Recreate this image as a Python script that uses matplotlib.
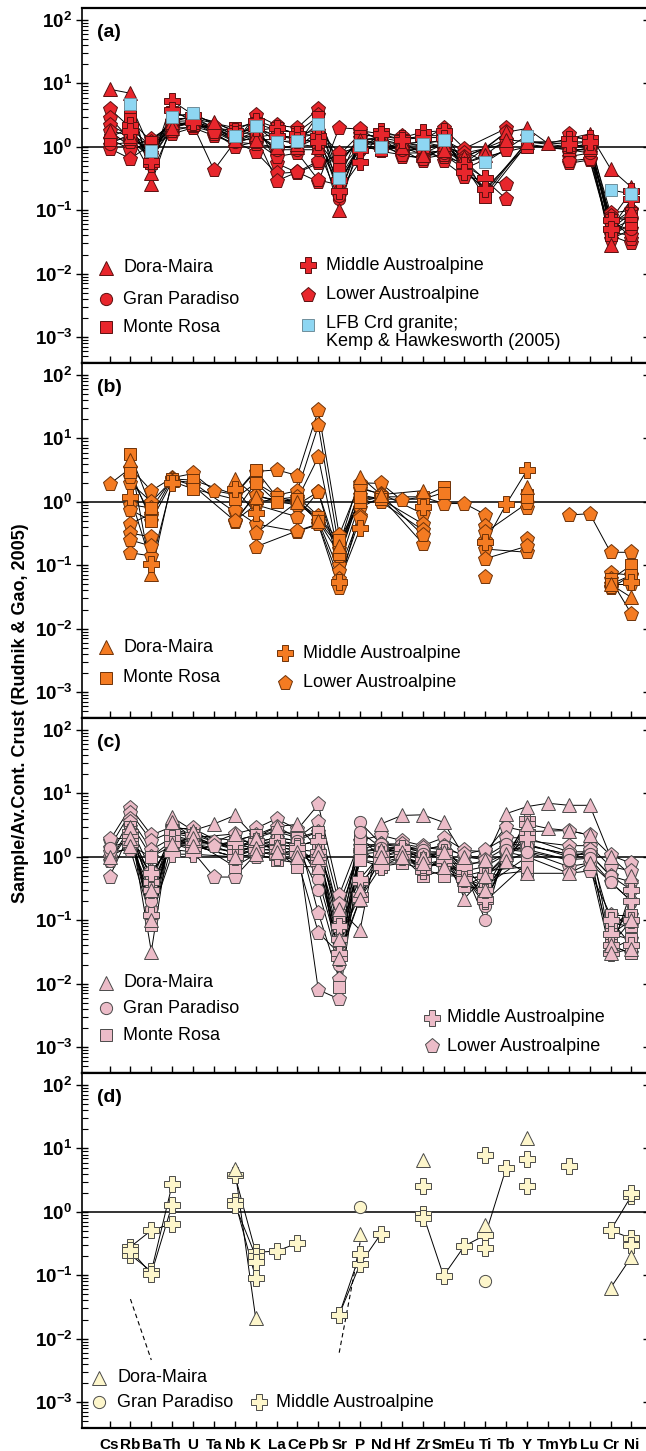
import numpy as np
import matplotlib
matplotlib.use("Agg")
import matplotlib.pyplot as plt
from matplotlib.ticker import FixedLocator, NullFormatter, LogLocator

plt.rcParams['font.family'] = ['Liberation Sans', 'DejaVu Sans']
plt.rcParams['mathtext.fontset'] = 'custom'
plt.rcParams['mathtext.rm'] = 'Liberation Sans:bold'
plt.rcParams['mathtext.it'] = 'Liberation Sans:bold'
plt.rcParams['mathtext.bf'] = 'Liberation Sans:bold'
plt.rcParams['mathtext.default'] = 'rm'

# ---------------------------------------------------------------- data
ELEMENTS = ["Cs", "Rb", "Ba", "Th", "U", "Ta", "Nb", "K", "La", "Ce", "Pb", "Sr", "P",
            "Nd", "Hf", "Zr", "Sm", "Eu", "Ti", "Tb", "Y", "Tm", "Yb", "Lu", "Cr", "Ni"]
Y_TICKS = [1e-3, 1e-2, 1e-1, 1e0, 1e1, 1e2]
Y_TICK_LABELS = ["$10^{-3}$", "$10^{-2}$", "$10^{-1}$", "$10^{0}$", "$10^{1}$", "$10^{2}$"]
Y_LABEL = "Sample/Av.Cont. Crust (Rudnik & Gao, 2005)"

# ---- panel (a)
A_DORA_MAIRA = [
    dict(Cs=8.1, Rb=7.0, Ba=0.26, Th=2.5, U=3.0, Ta=2.5, Nb=1.7, K=1.6, La=1.0, Ce=1.0, Pb=1.4, Sr=0.10, P=1.3,
         Nd=1.4, Hf=1.2, Zr=0.78, Sm=1.1, Eu=0.7, Ti=0.94, Tb=1.7, Y=1.95, Tm=1.13, Yb=1.35, Lu=1.6, Cr=0.45, Ni=0.23),
    dict(Cs=1.8, Rb=1.5, Ba=0.38, Th=2.0, U=2.5, Nb=1.3, K=1.3, La=1.3, Ce=1.1, Pb=1.0, Sr=0.25, P=1.1, Nd=1.1,
         Hf=1.0, Zr=0.75, Sm=0.9, Eu=0.55, Ti=0.75, Tb=1.3, Y=1.2, Yb=1.1, Lu=1.0, Cr=0.028, Ni=0.1),
]
A_GRAN_PARADISO = [
    dict(Cs=1.4, Rb=2.0, Ba=0.65, Th=2.2, U=2.5, Nb=1.2, K=1.6, La=0.9, Ce=0.9, Pb=0.9, Sr=0.15, P=0.9, Nd=1.0,
         Hf=0.9, Zr=0.9, Sm=0.8, Eu=0.5, Ti=0.22, Y=1.05, Yb=0.9, Lu=0.8, Cr=0.075, Ni=0.07),
    dict(Cs=1.1, Rb=1.6, Ba=1.0, Th=2.8, U=2.8, Nb=1.4, K=1.9, La=1.5, Ce=1.4, Pb=1.6, Sr=0.17, P=1.2, Nd=1.2,
         Hf=1.1, Zr=1.2, Sm=1.0, Eu=0.65, Ti=0.18, Y=1.2, Yb=1.0, Lu=1.1, Cr=0.06, Ni=0.05),
]
A_MONTE_ROSA = [
    dict(Rb=3.3, Ba=0.55, Th=3.5, U=2.8, Nb=2.0, K=2.4, La=1.8, Ce=1.7, Pb=3.0, Sr=0.5, P=1.5, Nd=1.5, Hf=1.3,
         Zr=1.5, Sm=1.5, Eu=0.45, Ti=0.2, Y=1.2, Yb=1.2, Lu=1.2, Cr=0.05, Ni=0.09),
    dict(Rb=2.7, Ba=1.2, Th=2.5, U=2.2, Nb=1.8, K=1.8, La=2.0, Ce=1.6, Pb=1.8, Sr=0.6, P=1.3, Nd=1.3, Hf=1.1,
         Zr=1.2, Sm=1.2, Eu=0.5, Ti=0.16, Y=1.1, Yb=0.9, Lu=0.9, Cr=0.04, Ni=0.06),
    dict(Cs=1.3, Rb=1.35, Ba=0.9, Th=2.0, U=2.4, Nb=1.5, K=1.4, La=1.6, Ce=1.3, Pb=1.2, Sr=0.45, P=1.0, Nd=0.9,
         Hf=1.2, Zr=1.0, Sm=1.1, Eu=0.55, Ti=0.7, Y=1.0, Yb=1.0, Lu=1.0, Cr=0.07, Ni=0.08),
]
A_MIDDLE_AUSTROALPINE = [
    dict(Rb=2.2, Ba=0.53, Th=5.3, U=3.2, Nb=1.8, K=2.6, La=2.0, Ce=1.6, Pb=1.5, Sr=0.2, P=0.58, Nd=1.8, Hf=1.4,
         Zr=1.7, Sm=1.8, Eu=0.51, Ti=0.32, Yb=1.35, Lu=1.4, Cr=0.07, Ni=0.2),
    dict(Rb=1.8, Ba=0.6, Th=3.8, U=2.5, Nb=1.6, K=2.0, La=1.5, Ce=1.3, Pb=1.2, Sr=0.3, P=0.9, Nd=1.6, Hf=1.3,
         Zr=1.4, Sm=1.4, Eu=0.4, Ti=0.22, Yb=1.1, Lu=1.2, Cr=0.05, Ni=0.15),
]
A_LOWER_AUSTROALPINE = [
    dict(Cs=4.0, Rb=2.0, Ba=1.0, Th=1.6, U=2.0, Ta=1.5, Nb=1.13, K=3.2, La=2.2, Ce=2.0, Pb=4.0, Sr=0.3, P=1.8,
         Nd=1.6, Hf=1.5, Zr=1.3, Sm=1.95, Eu=0.94, Tb=1.95, Yb=1.6, Lu=1.2, Cr=0.09, Ni=0.1),
    dict(Cs=2.9, Rb=1.3, Ba=0.65, Th=2.0, U=2.0, Ta=2.1, Nb=1.3, K=2.5, La=0.55, Ce=0.39, Pb=0.55, Sr=0.74, P=1.6,
         Nd=1.4, Hf=0.8, Zr=1.0, Sm=0.6, Eu=0.34, Tb=0.26, Yb=0.55, Lu=0.62, Cr=0.04, Ni=0.03),
    dict(Cs=2.2, Rb=1.5, Ba=0.8, Th=2.3, U=2.2, Ta=0.43, Nb=1.2, K=0.83, La=0.38, Ce=0.4, Pb=0.28, Sr=2.0, P=1.9,
         Nd=1.2, Hf=0.7, Zr=0.7, Sm=0.9, Eu=0.6, Tb=0.15, Yb=0.7, Lu=0.8, Cr=0.035, Ni=0.05),
    dict(Cs=1.8, Rb=1.0, Ba=1.35, Th=2.2, U=2.5, Ta=1.6, Nb=1.1, K=1.5, La=0.29, Ce=0.4, Pb=0.6, Sr=0.6, P=1.2,
         Nd=1.1, Hf=0.9, Zr=0.6, Sm=1.0, Eu=0.8, Tb=1.1, Yb=0.8, Lu=1.0, Cr=0.06, Ni=0.1),
    dict(Cs=1.35, Rb=0.9, Ba=1.2, Th=2.5, U=2.6, Ta=1.9, Nb=1.2, K=1.1, La=1.0, Ce=0.95, Pb=1.8, Sr=0.8, P=1.0,
         Nd=0.9, Hf=1.0, Zr=0.9, Sm=1.1, Eu=0.7, Tb=1.3, Yb=1.0, Lu=1.1, Cr=0.05, Ni=0.07),
    dict(Cs=1.06, Rb=1.2, Ba=0.75, Th=2.6, U=3.0, Nb=1.3, K=1.7, La=0.9, Ce=1.1, Pb=3.2, Sr=0.17, P=1.4, Nd=1.0,
         Hf=0.8, Zr=0.8, Sm=0.7, Eu=0.55, Tb=1.7, Yb=0.9, Lu=0.9, Cr=0.08, Ni=0.035),
    dict(Cs=0.94, Rb=0.65, Ba=1.1, Th=1.8, U=2.1, Ta=1.7, Nb=1.0, K=1.2, La=0.7, Ce=0.8, Pb=0.3, Sr=0.25, P=1.1,
         Nd=0.85, Hf=0.75, Zr=0.65, Sm=0.75, Eu=0.45, Tb=0.9, Yb=0.6, Lu=0.65, Cr=0.045, Ni=0.04),
]
A_LFB_CRD_GRANITE = [
    dict(Rb=4.7, Ba=0.85, Th=3.0, U=3.4, Nb=1.5, K=2.1, La=1.2, Ce=1.25, Pb=2.3, Sr=0.32, P=1.05, Nd=0.98,
         Zr=1.1, Sm=1.3, Ti=0.57, Y=1.5, Cr=0.21, Ni=0.18),
]

# ---- panel (b)
B_DORA_MAIRA = [
    dict(Rb=4.5, Ba=0.074, Th=2.2, Nb=2.3, K=1.2, Ce=1.0, Pb=0.5, Sr=0.2, P=2.5, Nd=1.3, Zr=1.5, Y=1.7,
         Cr=0.05, Ni=0.031),
]
B_MONTE_ROSA = [
    dict(Rb=5.6, Ba=0.8, Th=2.3, U=2.2, Nb=1.3, K=3.2, La=1.2, Ce=1.0, Pb=0.58, Sr=0.25, P=1.0, Nd=1.2, Zr=1.2,
         Sm=1.7, Y=1.3, Cr=0.06, Ni=0.1),
    dict(Rb=3.0, Ba=0.5, Th=2.1, U=1.6, Nb=1.1, K=2.0, La=1.0, Ce=1.1, Pb=0.5, Sr=0.15, P=1.2, Nd=1.1, Zr=1.1,
         Sm=1.4, Y=1.2, Cr=0.05, Ni=0.07),
]
B_MIDDLE_AUSTROALPINE = [
    dict(Rb=1.2, Ba=0.104, Th=2.0, Nb=1.6, K=0.67, Sr=0.055, P=0.38, Zr=0.83, Ti=0.23, Tb=0.92, Y=3.16,
         Ni=0.055),
]
B_LOWER_AUSTROALPINE = [
    dict(Cs=1.9, Rb=3.4, Ba=1.5, Th=2.4, U=2.8, Ta=1.5, Nb=1.3, K=3.0, La=3.2, Ce=2.6, Pb=28.0, Sr=0.3, P=2.0,
         Nd=1.95, Hf=1.06, Zr=1.2, Sm=0.94, Eu=0.94, Ti=0.63, Yb=0.62, Lu=0.65, Cr=0.16, Ni=0.16),
    dict(Rb=2.0, Ba=1.0, Th=2.2, U=2.0, Nb=0.69, K=2.0, La=1.27, Ce=1.5, Pb=16.0, Sr=0.18, P=1.6, Nd=1.35,
         Zr=0.65, Y=0.8, Cr=0.075, Ni=0.07),
    dict(Rb=0.9, Ba=0.8, Nb=0.48, K=1.3, La=1.0, Ce=1.1, Pb=5.1, Sr=0.13, P=1.3, Nd=1.1, Zr=0.45, Ti=0.42,
         Cr=0.06, Ni=0.017),
    dict(Rb=0.45, Ba=0.65, Nb=0.5, K=0.9, Ce=0.58, Pb=1.44, Sr=0.1, P=1.0, Nd=1.0, Zr=0.36, Y=0.26, Cr=0.05,
         Ni=0.05),
    dict(Rb=0.32, Ba=0.28, Nb=0.75, K=0.45, Ce=0.34, Pb=0.44, Sr=0.043, P=0.8, Nd=1.2, Zr=0.22, Ti=0.25,
         Cr=0.043, Ni=0.07),
    dict(Rb=0.157, Ba=0.14, K=0.32, Ce=1.0, Pb=0.5, Sr=0.08, P=0.6, Ti=0.18, Y=0.16, Cr=0.045),
    dict(Rb=0.25, Ba=0.2, K=0.195, Ce=0.35, Pb=0.45, Sr=0.06, P=0.55, Ti=0.127, Y=0.2),
    dict(Rb=0.75, Ba=0.5, K=1.0, Ce=1.2, Pb=0.6, Sr=0.2, P=1.1, Nd=1.2, Ti=0.065),
    dict(Rb=2.5, Ba=0.6, Th=2.3, U=1.8, Nb=0.5, K=1.3, La=1.0, Ce=0.9, Pb=1.44, Sr=0.14, P=1.7, Nd=1.3,
         Zr=0.3, Ti=0.33, Y=0.95),
]

# ---- panel (c)
C_DORA_MAIRA = [
    dict(Rb=3.0, Ba=0.032, Th=4.2, U=2.6, Ta=3.3, Nb=4.5, K=2.0, La=3.0, Ce=3.26, Pb=1.3, Sr=0.15, P=0.07,
         Nd=3.3, Hf=4.5, Zr=4.6, Sm=3.5, Eu=1.0, Ti=0.9, Tb=4.8, Y=6.2, Tm=7.0, Yb=6.5, Lu=6.5, Cr=1.0, Ni=0.5),
    dict(Rb=2.0, Ba=0.1, Th=3.5, U=2.0, Nb=2.3, K=1.4, La=1.5, Ce=1.2, Pb=0.7, Sr=0.05, P=0.3, Nd=1.3, Hf=1.2,
         Zr=1.0, Sm=1.2, Eu=0.22, Ti=0.5, Tb=1.1, Y=3.3, Tm=2.8, Yb=2.6, Lu=2.2, Cr=0.04, Ni=0.1),
    dict(Cs=1.0, Rb=1.5, Ba=0.3, Th=1.6, U=1.5, Nb=1.0, K=1.1, La=1.2, Ce=1.0, Pb=1.0, Sr=0.025, P=0.22,
         Nd=1.0, Hf=1.0, Zr=0.8, Sm=0.7, Eu=0.45, Ti=0.3, Tb=0.85, Y=0.55, Yb=0.55, Lu=0.8, Cr=0.03, Ni=0.035),
]
C_GRAN_PARADISO = [
    dict(Cs=0.85, Rb=2.5, Ba=0.15, Th=2.2, U=1.8, Nb=1.4, K=1.7, La=2.0, Ce=1.8, Pb=0.45, Sr=0.03, P=3.5,
         Nd=1.6, Hf=1.4, Zr=1.3, Sm=1.5, Eu=0.6, Ti=0.1, Tb=1.6, Y=1.5, Yb=1.1, Lu=1.1, Cr=0.5, Ni=0.3),
    dict(Cs=1.4, Rb=1.8, Ba=0.2, Th=1.8, U=1.5, Nb=1.2, K=1.4, La=1.6, Ce=1.4, Pb=0.3, Sr=0.02, P=2.5, Nd=1.4,
         Hf=1.2, Zr=1.1, Sm=1.2, Eu=0.5, Ti=0.17, Tb=1.3, Y=1.2, Yb=0.9, Lu=0.95, Cr=0.4, Ni=0.2),
]
C_MONTE_ROSA = [
    dict(Rb=3.0, Ba=0.085, Th=2.8, U=2.2, Nb=1.8, K=2.2, La=2.5, Ce=2.0, Pb=2.5, Sr=0.009, P=1.8, Nd=1.3,
         Hf=1.2, Zr=0.55, Sm=1.0, Eu=0.35, Ti=0.5, Y=0.6, Cr=0.12, Ni=0.12),
    dict(Rb=2.2, Ba=0.5, Th=2.0, U=1.5, Nb=1.0, K=1.7, La=1.5, Ce=1.5, Pb=1.8, Sr=0.08, P=2.0, Nd=1.0, Hf=1.3,
         Zr=0.8, Sm=0.7, Eu=0.6, Ti=0.2, Y=0.8, Cr=0.09, Ni=0.08),
    dict(Rb=1.5, Ba=1.0, Th=1.5, U=1.8, Nb=0.7, K=1.1, La=0.9, Ce=0.8, Pb=1.3, Sr=0.12, P=1.3, Nd=0.8, Hf=1.0,
         Zr=0.5, Sm=0.6, Eu=0.45, Ti=0.35, Y=1.0, Cr=0.06, Ni=0.05),
    dict(Rb=2.5, Ba=0.3, Th=2.4, U=2.0, Nb=1.3, K=1.4, La=1.2, Ce=0.7, Pb=0.7, Sr=0.03, P=0.9, Nd=0.7, Hf=0.8,
         Zr=0.65, Sm=0.5, Eu=0.5, Ti=0.6, Y=0.7, Cr=0.04, Ni=0.03),
]
C_MIDDLE_AUSTROALPINE = [
    dict(Rb=2.0, Ba=0.4, Th=2.5, U=2.2, Nb=1.4, K=1.5, La=1.8, Ce=1.5, Pb=1.8, Sr=0.025, P=0.4, Nd=0.8, Hf=1.2,
         Zr=0.6, Sm=1.0, Eu=0.5, Ti=0.2, Y=4.0, Cr=0.1, Ni=0.04),
    dict(Rb=2.5, Ba=0.3, Th=2.0, U=1.6, Nb=1.2, K=1.2, La=1.4, Ce=1.3, Pb=1.2, Sr=0.05, P=0.25, Nd=0.9, Hf=1.1,
         Zr=0.7, Sm=0.8, Eu=0.6, Ti=0.22, Y=3.3, Cr=0.06, Ni=0.1),
    dict(Rb=1.6, Ba=0.55, Th=1.6, U=1.3, Nb=1.7, K=1.8, La=1.2, Ce=1.1, Pb=1.0, Sr=0.08, P=0.45, Nd=1.1, Hf=1.4,
         Zr=0.9, Sm=1.2, Eu=0.7, Ti=0.3, Y=2.5, Cr=0.04, Ni=0.2),
    dict(Rb=2.2, Ba=0.12, Th=1.1, U=1.1, Nb=1.0, K=1.3, La=1.0, Ce=1.4, Pb=0.8, Sr=0.03, P=0.22, Nd=0.7, Hf=1.0,
         Zr=0.75, Sm=0.9, Eu=0.45, Ti=0.5, Y=2.0, Cr=0.03, Ni=0.3),
]
C_LOWER_AUSTROALPINE = [
    dict(Cs=1.8, Rb=6.0, Ba=2.2, Th=3.0, U=2.6, Ta=1.7, Nb=2.3, K=2.8, La=4.0, Ce=2.7, Pb=6.7, Sr=0.25, P=1.8,
         Nd=2.2, Hf=1.8, Zr=1.5, Sm=2.0, Eu=1.27, Ti=1.2, Tb=2.96, Y=2.5, Yb=2.6, Lu=2.2, Cr=1.06, Ni=0.79),
    dict(Cs=1.4, Rb=5.0, Ba=1.8, Th=2.5, U=2.2, Ta=1.5, Nb=1.8, K=2.2, La=3.0, Ce=2.0, Pb=3.5, Sr=0.18, P=1.3,
         Nd=1.6, Hf=1.5, Zr=1.3, Sm=1.5, Eu=1.0, Ti=1.0, Tb=1.6, Y=1.8, Yb=1.5, Lu=1.5, Cr=0.7, Ni=0.6),
    dict(Cs=1.0, Rb=4.0, Ba=1.3, Th=2.0, U=1.8, Nb=1.4, K=1.7, La=2.0, Ce=1.8, Pb=2.5, Sr=0.12, P=1.2, Nd=1.3,
         Hf=1.4, Zr=1.2, Sm=1.2, Eu=0.6, Ti=0.7, Tb=1.1, Y=1.5, Yb=1.1, Lu=1.1, Cr=0.5, Ni=0.4),
    dict(Cs=0.85, Rb=3.0, Ba=0.6, Th=1.5, U=1.5, Nb=1.0, K=1.4, La=1.5, Ce=1.5, Pb=1.8, Sr=0.08, P=1.0, Nd=1.0,
         Hf=1.2, Zr=1.0, Sm=1.0, Eu=0.45, Ti=0.5, Tb=0.85, Y=1.2, Yb=0.7, Lu=0.8, Cr=0.4, Ni=0.2),
    dict(Cs=0.48, Rb=2.5, Ba=0.45, Th=1.3, U=1.2, Ta=0.48, Nb=0.48, K=1.1, La=1.2, Ce=1.2, Pb=0.7, Sr=0.05,
         P=0.9, Nd=0.8, Hf=0.8, Zr=0.8, Sm=0.7, Eu=0.35, Ti=0.3, Tb=1.2, Y=1.0, Yb=0.55, Lu=0.6, Cr=0.12, Ni=0.08),
    dict(Cs=1.9, Rb=2.0, Ba=0.15, Th=2.8, U=2.8, Nb=1.3, K=2.0, La=2.5, Ce=2.3, Pb=0.13, Sr=0.012, P=1.5,
         Nd=1.6, Hf=1.6, Zr=1.4, Sm=1.3, Eu=1.1, Ti=1.3, Tb=2.0, Y=2.0, Yb=1.2, Lu=1.2, Cr=0.035, Ni=0.05),
    dict(Cs=1.2, Rb=1.3, Ba=0.1, Th=1.6, U=2.0, Nb=1.1, K=1.0, La=1.0, Ce=0.9, Pb=0.064, Sr=0.03, P=1.1,
         Nd=1.2, Hf=1.3, Zr=1.1, Sm=1.1, Eu=0.8, Ti=0.8, Y=1.6, Yb=1.0, Lu=1.0, Cr=0.04, Ni=0.03),
    dict(Rb=3.5, Ba=1.0, Th=1.8, U=1.6, Nb=1.6, K=1.6, La=1.8, Ce=1.6, Pb=0.008, Sr=0.0057, P=1.2, Nd=1.4,
         Hf=1.4, Zr=1.2, Sm=0.9, Eu=0.7, Ti=0.9, Tb=1.4, Y=1.3, Yb=0.9, Lu=1.3, Cr=0.09, Ni=0.12),
]

# ---- panel (d)
D_DORA_MAIRA = [
    dict(Nb=4.8, K=0.021, P=0.45, Zr=6.5, Ti=0.62, Y=14.4, Cr=0.063, Ni=0.195),
]
D_GRAN_PARADISO = [
    dict(P=1.2, Ti=0.08),
]
D_MIDDLE_AUSTROALPINE = [
    dict(Rb=0.28, Ba=0.51, Th=0.65, Nb=3.8, K=0.23, La=0.24, Ce=0.32, Sr=0.024, P=0.15, Nd=0.45,
         Zr=0.94, Sm=0.098, Eu=0.29, Ti=0.43, Tb=4.9, Yb=5.3, Cr=0.51, Ni=1.8),
    dict(Rb=0.21, Ba=0.115, Th=2.7, Nb=1.5, K=0.09, Sr=0.024, P=0.22, Zr=2.6, Ti=8.0, Y=6.8, Cr=0.51, Ni=0.38),
    dict(Rb=0.25, Ba=0.105, Th=1.3, Nb=1.3, K=0.2, Zr=0.8, Ti=0.27, Y=2.6, Ni=2.0),
    dict(K=0.16, Ni=0.3),
]
D_DASHED = [
    dict(Rb=0.042, Ba=0.0046),
    dict(Sr=0.006, P=0.33),
]

# ---------------------------------------------------------------- style
W, H = 646, 1451
FACE = {"a": "#e8262c", "b": "#f47b22", "c": "#ecbcc8", "d": "#fdf6cb"}
EDGE = {"a": "#5a1010", "b": "#6e3208", "c": "#4a4a4a", "d": "#4a4a4a"}
LFB_FACE, LFB_EDGE = "#8ed6f2", "#6f8f9c"
MK = {"dm": ("^", 10.5), "gp": ("o", 8.8), "mr": ("s", 8.8), "ma": ("P", 11.0), "la": ("p", 11.0)}
LFB_MK = ("s", 8.8)

fig = plt.figure(figsize=(W / 100, H / 100), dpi=100)
panel_px = [(8, 363), (363, 718), (718, 1073), (1073, 1428)]
x = np.arange(len(ELEMENTS))


def make_axes(top, bot):
    left, right = 82 / W, 649 / W
    return fig.add_axes([left, 1 - bot / H, right - left, (bot - top) / H])


def draw_group(ax, samples, key, face, edge, max_gap, z=3):
    marker, ms = MK[key] if isinstance(key, str) else key
    for s in samples:
        y = np.array([s.get(e, np.nan) for e in ELEMENTS], float)
        idx = np.where(~np.isnan(y))[0]
        if len(idx) == 0:
            continue
        runs = np.split(idx, np.where(np.diff(idx) > max_gap + 1)[0] + 1)
        for r in runs:
            if len(r) > 1:
                ax.plot(x[r], y[r], color="k", lw=0.7, zorder=2)
        ax.plot(x[idx], y[idx], ls="none", marker=marker, ms=ms, mfc=face, mec=edge,
                mew=0.7, zorder=z)


def legend_item(ax, key, face, edge, xm, xt, y, label, ym=None):
    marker, ms = MK[key] if isinstance(key, str) else key
    ax.plot([xm], [y if ym is None else ym], transform=ax.transAxes, ls="none", marker=marker, ms=ms,
            mfc=face, mec=edge, mew=0.7, clip_on=False, zorder=5)
    ax.text(xt, y, label, transform=ax.transAxes, ha="left", va="center", fontsize=13,
            linespacing=1.05)


axes = [make_axes(t, b) for t, b in panel_px]
for i, (ax, tag) in enumerate(zip(axes, "abcd")):
    ax.set_yscale("log")
    ax.set_ylim(10 ** -3.41, 10 ** 2.19)
    ax.set_xlim(-1.32, 25.84)
    ax.axhline(1.0, color="#333333", lw=1.4, zorder=1.5)
    ax.yaxis.set_major_locator(FixedLocator(Y_TICKS))
    ax.set_yticklabels(Y_TICK_LABELS, fontsize=13.5)
    ax.yaxis.set_minor_locator(LogLocator(base=10, subs=np.arange(2, 10)))
    ax.yaxis.set_minor_formatter(NullFormatter())
    ax.tick_params(axis="y", which="major", direction="inout", length=8, width=1.0,
                   left=True, right=True, pad=3)
    ax.tick_params(axis="y", which="minor", direction="in", length=4, width=0.8,
                   left=True, right=False)
    ax.set_xticks(x)
    ax.tick_params(axis="x", which="both", direction="in", length=5, width=1.0, top=False,
                   pad=7)
    if tag == "d":
        ax.set_xticklabels(ELEMENTS, fontsize=11, fontweight="bold")
    else:
        ax.set_xticklabels([])
    for side in ["top", "bottom"]:
        ax.spines[side].set_linewidth(1.6)
    ax.spines["left"].set_linewidth(1.2)
    ax.text(0.027, 0.93, "(%s)" % tag, transform=ax.transAxes, ha="left", va="center",
            fontsize=14, fontweight="bold")

# panel (a)
ax = axes[0]
fa, ea = FACE["a"], EDGE["a"]
draw_group(ax, A_LOWER_AUSTROALPINE, "la", fa, ea, 1)
draw_group(ax, A_GRAN_PARADISO, "gp", fa, ea, 1)
draw_group(ax, A_MONTE_ROSA, "mr", fa, ea, 1)
draw_group(ax, A_DORA_MAIRA, "dm", fa, ea, 1)
draw_group(ax, A_MIDDLE_AUSTROALPINE, "ma", fa, ea, 1)
draw_group(ax, A_LFB_CRD_GRANITE, LFB_MK, LFB_FACE, LFB_EDGE, 1, z=4)
legend_item(ax, "dm", fa, ea, 0.0425, 0.0726, 0.268, "Dora-Maira")
legend_item(ax, "gp", fa, ea, 0.0425, 0.0726, 0.180, "Gran Paradiso")
legend_item(ax, "mr", fa, ea, 0.0425, 0.0726, 0.101, "Monte Rosa")
legend_item(ax, "ma", fa, ea, 0.398, 0.430, 0.276, "Middle Austroalpine")
legend_item(ax, "la", fa, ea, 0.398, 0.430, 0.192, "Lower Austroalpine")
legend_item(ax, LFB_MK, LFB_FACE, LFB_EDGE, 0.398, 0.430, 0.086,
            "LFB Crd granite;\nKemp & Hawkesworth (2005)", ym=0.107)

# panel (b)
ax = axes[1]
fb, eb = FACE["b"], EDGE["b"]
draw_group(ax, B_LOWER_AUSTROALPINE, "la", fb, eb, 1)
draw_group(ax, B_MONTE_ROSA, "mr", fb, eb, 1)
draw_group(ax, B_DORA_MAIRA, "dm", fb, eb, 1)
draw_group(ax, B_MIDDLE_AUSTROALPINE, "ma", fb, eb, 1)
legend_item(ax, "dm", fb, eb, 0.0425, 0.073, 0.200, "Dora-Maira")
legend_item(ax, "mr", fb, eb, 0.0425, 0.073, 0.113, "Monte Rosa")
legend_item(ax, "ma", fb, eb, 0.358, 0.389, 0.183, "Middle Austroalpine")
legend_item(ax, "la", fb, eb, 0.358, 0.389, 0.099, "Lower Austroalpine")

# panel (c)
ax = axes[2]
fc, ec = FACE["c"], EDGE["c"]
draw_group(ax, C_LOWER_AUSTROALPINE, "la", fc, ec, 1)
draw_group(ax, C_MONTE_ROSA, "mr", fc, ec, 1)
draw_group(ax, C_GRAN_PARADISO, "gp", fc, ec, 1)
draw_group(ax, C_MIDDLE_AUSTROALPINE, "ma", fc, ec, 1)
draw_group(ax, C_DORA_MAIRA, "dm", fc, ec, 1)
legend_item(ax, "dm", fc, ec, 0.0425, 0.073, 0.254, "Dora-Maira")
legend_item(ax, "gp", fc, ec, 0.0425, 0.073, 0.183, "Gran Paradiso")
legend_item(ax, "mr", fc, ec, 0.0425, 0.073, 0.107, "Monte Rosa")
legend_item(ax, "ma", fc, ec, 0.617, 0.644, 0.155, "Middle Austroalpine")
legend_item(ax, "la", fc, ec, 0.617, 0.644, 0.076, "Lower Austroalpine")

# panel (d)
ax = axes[3]
fd, ed = FACE["d"], EDGE["d"]
for s in D_DASHED:
    yv = np.array([s.get(e, np.nan) for e in ELEMENTS], float)
    ok = ~np.isnan(yv)
    ax.plot(x[ok], yv[ok], color="k", lw=0.8, ls=(0, (4, 3)), zorder=2)
draw_group(ax, D_MIDDLE_AUSTROALPINE, "ma", fd, ed, 0)
draw_group(ax, D_DORA_MAIRA, "dm", fd, ed, 0)
draw_group(ax, D_GRAN_PARADISO, "gp", fd, ed, 0)
legend_item(ax, "dm", fd, ed, 0.030, 0.062, 0.141, "Dora-Maira")
legend_item(ax, "gp", fd, ed, 0.030, 0.062, 0.073, "Gran Paradiso")
legend_item(ax, "ma", fd, ed, 0.313, 0.342, 0.073, "Middle Austroalpine")

fig.text(0.031, 0.5086, Y_LABEL, rotation=90, ha="center", va="center", fontsize=13,
         fontweight="bold")

fig.savefig("out.png", dpi=100)
